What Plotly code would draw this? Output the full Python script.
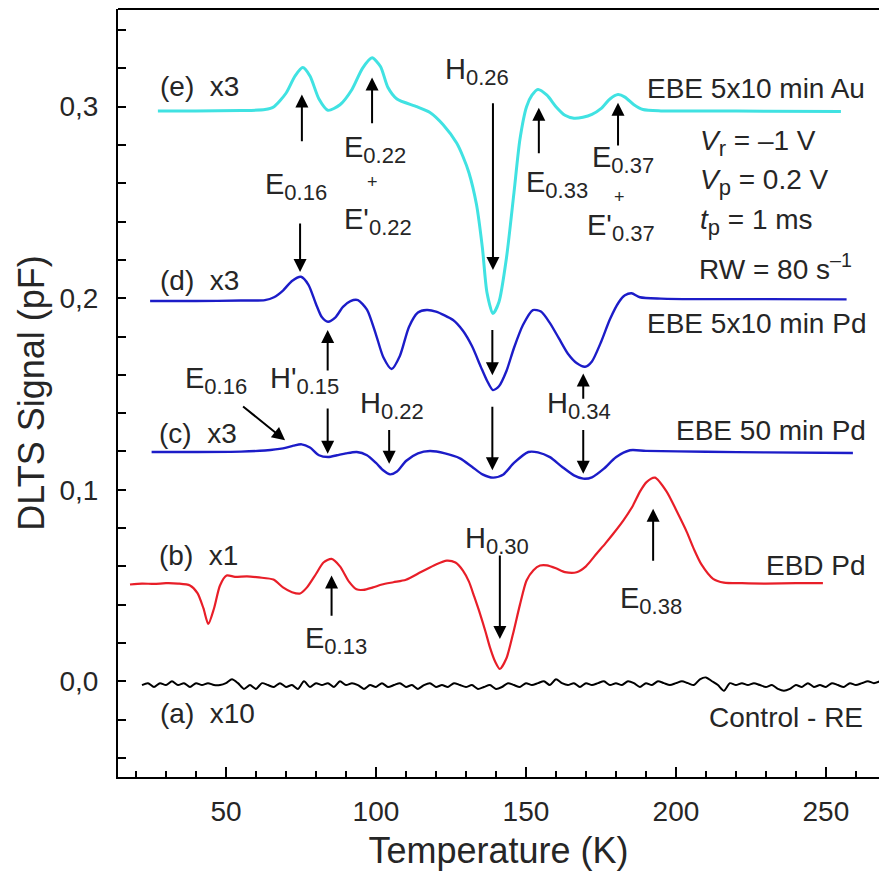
import plotly.graph_objects as go

# ---------------- data ----------------
T_e = [27.3, 40, 55, 63, 66, 70, 73, 75.6, 78, 81, 84, 88, 92, 95.5, 98.7, 101.5, 104, 107, 113.6, 118,
       122.4, 126.9, 129, 131, 133.5, 135.5, 137, 139, 141, 143.5, 146, 148, 150.2, 152, 154, 157, 160,
       163, 166, 169, 172, 175, 178, 180.7, 183, 186, 189, 195, 210, 230, 255]
S_e = [0.2978, 0.2978, 0.298, 0.2985, 0.300, 0.307, 0.316, 0.3204, 0.316, 0.304, 0.2981, 0.301, 0.309,
       0.320, 0.3255, 0.321, 0.310, 0.304, 0.300, 0.297, 0.2906, 0.281, 0.274, 0.2655, 0.249, 0.226,
       0.203, 0.192, 0.198, 0.221, 0.255, 0.283, 0.300, 0.306, 0.309, 0.306, 0.300, 0.2955, 0.294,
       0.2945, 0.296, 0.299, 0.304, 0.3063, 0.305, 0.301, 0.2985, 0.2978, 0.2978, 0.2976, 0.2975]

T_d = [24.7, 40, 55, 63, 66, 69, 72, 75, 77.5, 80, 82, 84, 86.5, 89, 91.5, 94, 97, 100, 102.5, 105.2,
       108, 111, 114, 116.9, 120, 125.7, 129, 132, 135, 137, 139, 141, 143.5, 146, 149, 152.3, 155,
       158, 161, 164, 167, 169.7, 172, 175, 178, 181, 183, 185.2, 188, 195, 210, 230, 256.9]
S_d = [0.1985, 0.1985, 0.1988, 0.199, 0.2005, 0.204, 0.209, 0.2112, 0.207, 0.197, 0.190, 0.1877, 0.190,
       0.1955, 0.1985, 0.199, 0.194, 0.181, 0.169, 0.163, 0.170, 0.185, 0.1925, 0.1938, 0.193, 0.1886,
       0.183, 0.175, 0.164, 0.157, 0.152, 0.154, 0.162, 0.174, 0.186, 0.1938, 0.193, 0.187, 0.179,
       0.171, 0.166, 0.1642, 0.167, 0.177, 0.189, 0.198, 0.2015, 0.2026, 0.2005, 0.1998, 0.1995, 0.1995,
       0.1994]

T_c = [25.2, 40, 55, 63, 69, 72.5, 75.2, 78, 81, 84.1, 87, 90, 93.6, 97, 100, 102.5, 104.7, 107, 110,
       114, 118, 123, 128, 132, 135.5, 139.1, 142.5, 146, 150.8, 154, 158, 162, 166, 169.1, 172, 176,
       180, 184.7, 190, 210, 230, 259]
S_c = [0.1197, 0.1197, 0.1199, 0.1205, 0.1216, 0.123, 0.1237, 0.122, 0.118, 0.1171, 0.118, 0.119,
       0.1197, 0.118, 0.114, 0.110, 0.108, 0.1095, 0.115, 0.119, 0.1202, 0.119, 0.1164, 0.112, 0.108,
       0.1063, 0.108, 0.114, 0.1197, 0.1195, 0.117, 0.112, 0.1075, 0.1058, 0.1065, 0.111, 0.117,
       0.1206, 0.1203, 0.1198, 0.1195, 0.1192]

T_b = [18, 22, 26, 30, 34, 38, 40.5, 42.5, 44.1, 46, 48, 50.2, 53, 57, 61, 65.8, 69, 72, 74.7, 77, 80,
       82.5, 85.2, 88, 91, 93.5, 95.8, 99, 102, 105.8, 110, 115, 120, 123.6, 126.5, 129, 131, 132.8,
       134.7, 136.5, 138, 139.8, 141.3, 143.5, 145.7, 148, 150.2, 152.5, 154.7, 157, 160, 163, 166.9,
       170, 173.6, 176.5, 179.1, 182.5, 185.7, 188, 190.2, 193, 196.9, 200.2, 203.6, 206, 208.5, 212.4,
       216, 222, 230, 240, 249]
S_b = [0.0505, 0.051, 0.0508, 0.0512, 0.051, 0.050, 0.046, 0.038, 0.0299, 0.038, 0.050, 0.0552, 0.0545,
       0.0548, 0.0542, 0.0531, 0.049, 0.0465, 0.0458, 0.049, 0.056, 0.062, 0.0639, 0.060, 0.052, 0.048,
       0.0477, 0.049, 0.0505, 0.0517, 0.053, 0.057, 0.061, 0.063, 0.062, 0.0578, 0.052, 0.044, 0.0352,
       0.026, 0.0177, 0.010, 0.0064, 0.012, 0.0248, 0.040, 0.0526, 0.058, 0.0604, 0.0605, 0.059, 0.057,
       0.0569, 0.060, 0.0667, 0.072, 0.077, 0.084, 0.0918, 0.099, 0.104, 0.1063, 0.099, 0.089, 0.078,
       0.069, 0.061, 0.0535, 0.0515, 0.0512, 0.051, 0.0512, 0.0512]

T_a_start = 22
T_a_step = 2
S_a = [-0.002, -0.001, -0.003, -0.001, -0.002, 0.000, -0.002, -0.001, -0.003, -0.001, -0.002, -0.001,
       -0.002, -0.002, -0.001, 0.001, -0.001, -0.004, -0.002, -0.004, -0.001, -0.002, -0.003, -0.001,
       -0.003, -0.002, -0.004, 0.000, -0.003, -0.001, -0.002, -0.001, -0.003, 0.000, -0.002, -0.001,
       -0.002, -0.004, -0.002, -0.003, -0.001, -0.003, -0.002, -0.001, -0.003, -0.002, -0.004, -0.002,
       -0.001, -0.003, -0.002, -0.003, -0.001, -0.002, -0.003, -0.002, -0.004, -0.003, -0.002, -0.004,
       -0.003, -0.001, -0.002, -0.003, -0.001, -0.002, -0.001, 0.000, -0.002, 0.001, -0.001, -0.002,
       -0.001, -0.003, -0.001, -0.002, -0.001, 0.000, -0.002, -0.001, -0.002, 0.000, -0.001, -0.003,
       -0.001, -0.002, 0.000, -0.001, -0.002, -0.001, 0.000, -0.001, -0.002, 0.001, 0.002, 0.000,
       -0.002, -0.005, -0.001, -0.002, -0.001, -0.002, -0.001, -0.002, -0.003, -0.002, -0.004, -0.005,
       -0.004, -0.002, -0.003, -0.001, -0.003, -0.002, -0.003, -0.001, -0.002, -0.003, -0.001, -0.002,
       -0.001, 0.000, -0.001, 0.000]
T_a = [T_a_start + T_a_step * i for i in range(len(S_a))]

COL_E = "rgb(64,226,226)"
COL_D = "rgb(28,28,200)"
COL_B = "rgb(232,30,40)"
TXT = "#262626"
FONT = "Liberation Sans, Arial, sans-serif"

fig = go.Figure()
for T, S, col, w in [(T_a, S_a, "black", 2), (T_b, S_b, COL_B, 2.2), (T_c, S_c, COL_D, 2.4),
                     (T_d, S_d, COL_D, 2.4), (T_e, S_e, COL_E, 3)]:
    fig.add_trace(go.Scatter(x=T, y=S, mode="lines",
                             line=dict(color=col, width=w, shape="spline", smoothing=0.7),
                             showlegend=False, hoverinfo="skip"))

ann = []

def label(x, y, text, xa="left", size=28):
    ann.append(dict(x=x, y=y, xref="x", yref="y", text=text, showarrow=False,
                    xanchor=xa, yanchor="middle", font=dict(size=size, color=TXT, family=FONT)))

def arrow(xh, yh, xt, yt):
    ann.append(dict(x=xh, y=yh, ax=xt, ay=yt, xref="x", yref="y", axref="x", ayref="y",
                    text="", showarrow=True, arrowhead=2, arrowsize=1.3, arrowwidth=2,
                    arrowcolor="black", standoff=0, startstandoff=0))

def sub(b, s):
    return f'{b}<sub><span style="font-size:22px">{s}</span></sub>'

# series labels
label(27.3, 0.3106, "(e)  x3")
label(27.3, 0.2095, "(d)  x3")
label(26.9, 0.1295, "(c)  x3")
label(27.0, 0.0656, "(b)  x1")
label(27.3, -0.0170, "(a)  x10")

label(263.7, 0.3095, "EBE 5x10 min Au", xa="right")
label(264.0, 0.1870, "EBE 5x10 min Pd", xa="right")
label(264.0, 0.1310, "EBE 50 min Pd", xa="right")
label(264.0, 0.0604, "EBD Pd", xa="right")
label(263.0, -0.0191, "Control - RE", xa="right")

label(207.3, 0.2812, '<i>V</i><sub><span style="font-size:22px">r</span></sub> = \u20131 V')
label(207.3, 0.2608, '<i>V</i><sub><span style="font-size:22px">p</span></sub> = 0.2 V')
label(207.3, 0.2398, '<i>t</i><sub><span style="font-size:22px">p</span></sub> = 1 ms')
label(207.0, 0.2163, "RW = 80 s<sup>\u20131</sup>")

# peak labels
PK = 29
label(62.3, 0.2582, sub("E", "0.16"), size=PK)
label(88.7, 0.2775, sub("E", "0.22"), size=PK)
label(99.0, 0.2608, "+", xa="center", size=18)
label(88.7, 0.2398, sub("E'", "0.22"), size=PK)
label(122.3, 0.3183, sub("H", "0.26"), size=PK)
label(149.3, 0.2592, sub("E", "0.33"), size=PK)
label(171.3, 0.2723, sub("E", "0.37"), size=PK)
label(181.3, 0.2529, "+", xa="center", size=18)
label(169.7, 0.2367, sub("E'", "0.37"), size=PK)
label(35.7, 0.1572, sub("E", "0.16"), size=PK)
label(64.0, 0.1572, sub("H'", "0.15"), size=PK)
label(94.0, 0.1441, sub("H", "0.22"), size=PK)
label(156.3, 0.1441, sub("H", "0.34"), size=PK)
label(129.0, 0.0735, sub("H", "0.30"), size=PK)
label(75.6, 0.0212, sub("E", "0.13"), size=PK)
label(180.8, 0.0421, sub("E", "0.38"), size=PK)

# arrows (head x, head y, tail x, tail y)
arrow(75.3, 0.3063, 75.3, 0.2812)
arrow(74.7, 0.2137, 74.7, 0.2398)
arrow(98.7, 0.3152, 98.7, 0.2906)
arrow(139.0, 0.2147, 139.0, 0.3026)
arrow(154.3, 0.2995, 154.3, 0.2749)
arrow(180.7, 0.3021, 180.7, 0.2790)
arrow(69.7, 0.1258, 55.2, 0.1441)
arrow(83.9, 0.1834, 83.9, 0.1615)
arrow(83.9, 0.1188, 83.9, 0.1432)
arrow(104.4, 0.1136, 104.4, 0.1319)
arrow(138.8, 0.1598, 138.8, 0.1842)
arrow(138.8, 0.1101, 138.8, 0.1441)
arrow(169.1, 0.1607, 169.1, 0.1467)
arrow(169.1, 0.1084, 169.1, 0.1319)
arrow(141.3, 0.0221, 141.3, 0.0665)
arrow(85.2, 0.0552, 85.2, 0.0334)
arrow(192.4, 0.0901, 192.4, 0.0621)

fig.update_layout(
    width=879, height=880,
    margin=dict(l=118, r=0, t=9, b=103, autoexpand=False),
    plot_bgcolor="white", paper_bgcolor="white",
    separators=",.",
    font=dict(family=FONT, color=TXT),
    annotations=ann,
    shapes=[dict(type="line", xref="paper", yref="paper", x0=0, x1=1, y0=1, y1=1,
                 line=dict(color="black", width=2))],
    xaxis=dict(range=[14, 267.7], showline=True, linecolor="black", linewidth=2, automargin=False,
               ticks="inside", ticklen=10, tickwidth=2, tickcolor="black",
               tick0=0, dtick=50, showgrid=False, zeroline=False,
               minor=dict(ticks="inside", dtick=10, ticklen=6, tickwidth=1.5, tickcolor="black"),
               tickfont=dict(size=28, color=TXT), ticklabelstandoff=8,
               title=dict(text="Temperature (K)", font=dict(size=36, color=TXT), standoff=12)),
    yaxis=dict(range=[-0.05, 0.351], showline=True, linecolor="black", linewidth=2, automargin=False,
               ticks="inside", ticklen=8, tickwidth=2, tickcolor="black",
               tick0=0, dtick=0.1, tickformat=".1f", showgrid=False, zeroline=False,
               minor=dict(ticks="inside", dtick=0.02, tick0=0, ticklen=8, tickwidth=1.5,
                          tickcolor="black"),
               tickfont=dict(size=28, color=TXT), ticklabelstandoff=12,
               title=dict(text="DLTS Signal (pF)", font=dict(size=36, color=TXT), standoff=4)),
)

fig.write_html("out.html", config={"displayModeBar": False},
               post_script="document.body.style.margin='0';document.body.style.overflow='hidden';")
